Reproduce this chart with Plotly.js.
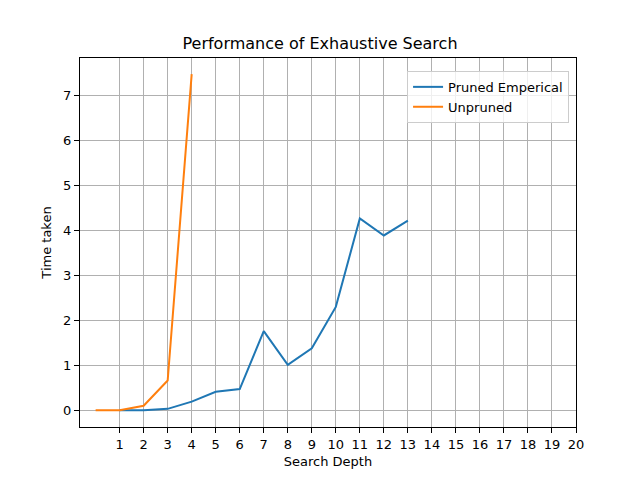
<!DOCTYPE html>
<html>
<head>
<meta charset="utf-8">
<script src="https://cdn.plot.ly/plotly-3.0.1.min.js"></script>
<style>
  body { margin: 0; background: #fff; }
  #chart { width: 640px; height: 480px; }
</style>
</head>
<body>
<div id="chart"></div>
<script>
// depth values for each run
var prunedDepth = [1, 2, 3, 4, 5, 6, 7, 8, 9, 10, 11, 12, 13];
var prunedTime = [0.0, 0.0, 0.03, 0.19, 0.41, 0.47, 1.76, 1.01, 1.38, 2.30, 4.27, 3.89, 4.22];
var unprunedDepth = [0, 1, 2, 3, 4];
var unprunedTime = [0.0, 0.0, 0.1, 0.66, 7.48];
var xTicks = [1, 2, 3, 4, 5, 6, 7, 8, 9, 10, 11, 12, 13, 14, 15, 16, 17, 18, 19, 20];
var yTicks = [0, 1, 2, 3, 4, 5, 6, 7];

var font = "DejaVu Sans, sans-serif";

var data = [{
    x: prunedDepth,
    y: prunedTime,
    name: "Pruned Emperical",
    mode: "lines",
    type: "scatter",
    line: { color: "#1f77b4", width: 2 }
}, {
    x: unprunedDepth,
    y: unprunedTime,
    name: "Unpruned",
    mode: "lines",
    type: "scatter",
    line: { color: "#ff7f0e", width: 2 }
}];

var axisStyle = {
    showline: true,
    linecolor: "#000",
    linewidth: 1,
    mirror: true,
    ticks: "outside",
    ticklen: 5,
    tickwidth: 1,
    tickcolor: "#000",
    showgrid: true,
    gridcolor: "#b0b0b0",
    gridwidth: 1,
    zeroline: false,
    tickfont: { family: font, size: 13, color: "#000" }
};

var layout = {
    width: 640,
    height: 480,
    margin: { l: 80, r: 64, t: 58, b: 53 },
    paper_bgcolor: "#fff",
    plot_bgcolor: "#fff",
    font: { family: font, color: "#000" },
    title: {
        text: "Performance of Exhaustive Search",
        font: { family: font, size: 16, color: "#000" },
        x: 0.5,
        xanchor: "center",
        y: 1 - 43 / 480,
        yanchor: "middle"
    },
    xaxis: Object.assign({}, axisStyle, {
        range: [-0.65, 20],
        tickmode: "array",
        tickvals: xTicks,
        title: { text: "Search Depth", font: { family: font, size: 13 }, standoff: 6 }
    }),
    yaxis: Object.assign({}, axisStyle, {
        range: [-0.374, 7.84],
        tickmode: "array",
        tickvals: yTicks,
        title: { text: "Time taken", font: { family: font, size: 13 }, standoff: 8 }
    }),
    showlegend: true,
    legend: {
        x: 0.986,
        y: 0.965,
        xanchor: "right",
        yanchor: "top",
        bgcolor: "rgba(255,255,255,0.8)",
        bordercolor: "#cccccc",
        borderwidth: 1,
        tracegroupgap: 0,
        font: { family: font, size: 13, color: "#000" }
    }
};

Plotly.newPlot("chart", data, layout, { displayModeBar: false, staticPlot: true });
</script>
</body>
</html>
